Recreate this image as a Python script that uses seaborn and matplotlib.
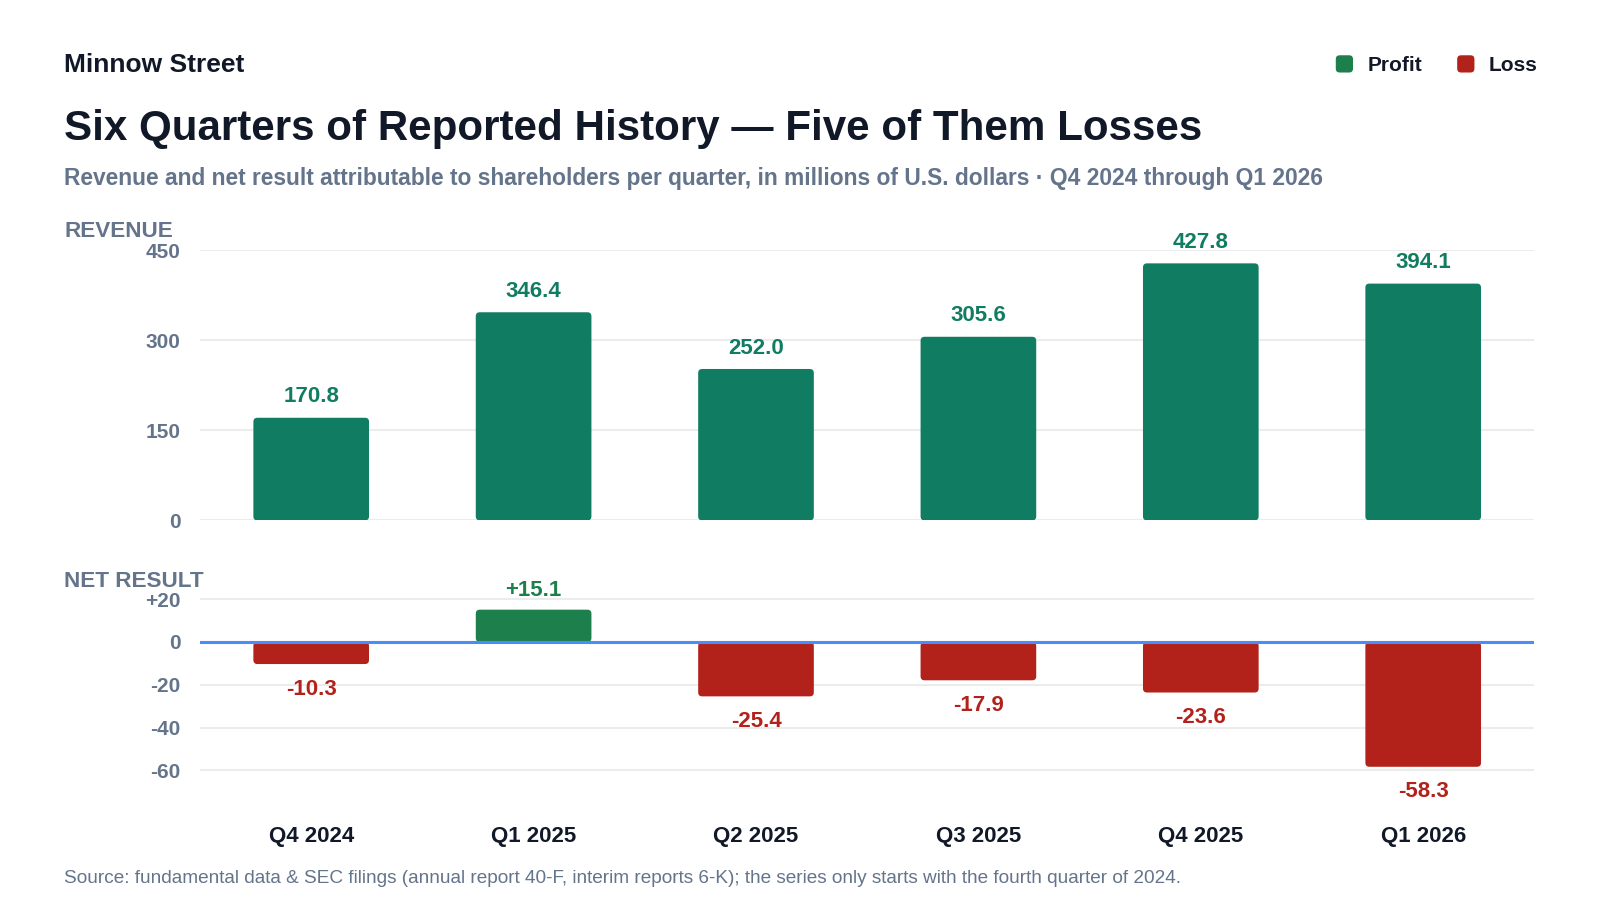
import numpy as np
import pandas as pd
import seaborn as sns
import matplotlib.pyplot as plt
from matplotlib.patches import FancyBboxPatch, Patch
from matplotlib.legend_handler import HandlerPatch
from matplotlib.ticker import FixedLocator, FuncFormatter

# data (millions of USD)
quarters = ["Q4 2024", "Q1 2025", "Q2 2025", "Q3 2025", "Q4 2025", "Q1 2026"]
revenue = [170.8, 346.4, 252.0, 305.6, 427.8, 394.1]
net_result = [-10.3, 15.1, -25.4, -17.9, -23.6, -58.3]

rev_ticks = [0, 150, 300, 450]
net_ticks = [-60, -40, -20, 0, 20]

# colours
DARK = "#111827"
GRAY = "#64748b"
REV_GREEN = "#107c61"
PROFIT = "#1d7f4c"
LOSS = "#b2221a"
ZERO_BLUE = "#4b8df8"
GRID = "#ececec"

sns.set_theme(style="white")
plt.rcParams['font.family'] = ['Liberation Sans', 'DejaVu Sans']

df = pd.DataFrame({"quarter": quarters, "revenue": revenue, "net": net_result})
df["sign"] = np.where(df["net"] >= 0, "Profit", "Loss")

fig = plt.figure(figsize=(16, 9), dpi=100)
ax_rev = fig.add_axes([0.125, 0.4218, 0.834, 0.3004])
ax_net = fig.add_axes([0.125, 0.1083, 0.834, 0.2307])

sns.barplot(data=df, x="quarter", y="revenue", color=REV_GREEN, width=0.52,
            saturation=1, ax=ax_rev, zorder=2)
sns.barplot(data=df, x="quarter", y="net", hue="sign",
            palette={"Profit": PROFIT, "Loss": LOSS}, dodge=False, width=0.52,
            saturation=1, legend=False, ax=ax_net, zorder=2)

ax_rev.set_ylim(0, 450)
ax_net.set_ylim(-75, 22)
for ax in (ax_rev, ax_net):
    ax.set_xlim(-0.5, len(quarters) - 0.5)
    ax.set_xlabel("")
    ax.set_ylabel("")
    for s in ax.spines.values():
        s.set_visible(False)
    ax.grid(axis="y", color=GRID, linewidth=1.5, zorder=0)
    ax.set_axisbelow(True)
    ax.tick_params(axis="both", length=0)
    ax.tick_params(axis="y", pad=14, labelsize=15, labelcolor=GRAY)

ax_rev.yaxis.set_major_locator(FixedLocator(rev_ticks))
ax_rev.yaxis.set_major_formatter(FuncFormatter(lambda v, p: f"{v:.0f}"))
ax_rev.set_xticklabels([])
ax_net.yaxis.set_major_locator(FixedLocator(net_ticks))
ax_net.yaxis.set_major_formatter(FuncFormatter(lambda v, p: f"+{v:.0f}" if v > 0 else f"{v:.0f}"))
ax_net.tick_params(axis="x", pad=17, labelsize=16, labelcolor=DARK)
for ax in (ax_rev, ax_net):
    for t in ax.get_yticklabels() + ax.get_xticklabels():
        t.set_fontweight("bold")

ax_net.axhline(0, color=ZERO_BLUE, linewidth=2.2, zorder=3)


# round the bar corners (about 4 px)
def round_bars(ax, radius_px=4):
    bb = ax.get_window_extent()
    x0, x1 = ax.get_xlim()
    y0, y1 = ax.get_ylim()
    ux = (x1 - x0) / bb.width
    uy = (y1 - y0) / bb.height
    for p in list(ax.patches):
        b = p.get_bbox()
        xa, xb = sorted([b.x0, b.x1])
        ya, yb = sorted([b.y0, b.y1])
        fb = FancyBboxPatch((xa, ya), xb - xa, yb - ya,
                            boxstyle=f"round,pad=0,rounding_size={radius_px * ux}",
                            mutation_aspect=uy / ux,
                            facecolor=p.get_facecolor(), edgecolor="none", zorder=2)
        p.remove()
        ax.add_patch(fb)


fig.canvas.draw()
round_bars(ax_rev)
round_bars(ax_net)

# value labels
for i, v in enumerate(revenue):
    ax_rev.annotate(f"{v:.1f}", (i, v), xytext=(0, 15), textcoords="offset points",
                    ha="center", va="center", fontsize=16, fontweight="bold",
                    color=REV_GREEN, annotation_clip=False)
for i, v in enumerate(net_result):
    if v >= 0:
        ax_net.annotate(f"+{v:.1f}", (i, v), xytext=(0, 14), textcoords="offset points",
                        ha="center", va="center", fontsize=16, fontweight="bold",
                        color=PROFIT, annotation_clip=False)
    else:
        ax_net.annotate(f"{v:.1f}", (i, v), xytext=(0, -18), textcoords="offset points",
                        ha="center", va="center", fontsize=16, fontweight="bold",
                        color=LOSS, annotation_clip=False)

# header and footer text
fig.text(0.04, 0.928, "Minnow Street", fontsize=19, fontweight="bold", color=DARK, va="center")
fig.text(0.04, 0.857, "Six Quarters of Reported History \u2014 Five of Them Losses",
         fontsize=30.3, fontweight="bold", color=DARK, va="center")
fig.text(0.04, 0.802, "Revenue and net result attributable to shareholders per quarter, "
         "in millions of U.S. dollars \u00b7 Q4 2024 through Q1 2026",
         fontsize=16.4, fontweight="bold", color=GRAY, va="center")
fig.text(0.04, 0.743, "REVENUE", fontsize=16.2, fontweight="bold", color=GRAY, va="center")
fig.text(0.04, 0.354, "NET RESULT", fontsize=16.2, fontweight="bold", color=GRAY, va="center")
fig.text(0.04, 0.024, "Source: fundamental data & SEC filings (annual report 40-F, interim reports 6-K); "
         "the series only starts with the fourth quarter of 2024.",
         fontsize=13.7, color=GRAY, va="center")


# legend with rounded squares
def rounded_square(legend, orig_handle, xdescent, ydescent, width, height, fontsize):
    s = height
    return FancyBboxPatch((-xdescent + (width - s) / 2, -ydescent), s, s,
                          boxstyle=f"round,pad=0,rounding_size={s * 0.25}")


handles = [Patch(facecolor=PROFIT, label="Profit"), Patch(facecolor=LOSS, label="Loss")]
fig.legend(handles=handles, loc="center right", bbox_to_anchor=(0.961, 0.928),
           frameon=False, ncol=2, fontsize=15, handlelength=1.0, handleheight=1.0,
           handletextpad=0.6, columnspacing=1.6, borderpad=0, borderaxespad=0,
           handler_map={Patch: HandlerPatch(patch_func=rounded_square)},
           prop={"weight": "bold", "size": 15}, labelcolor=DARK)

fig.savefig("out.png", dpi=100, facecolor="white")
